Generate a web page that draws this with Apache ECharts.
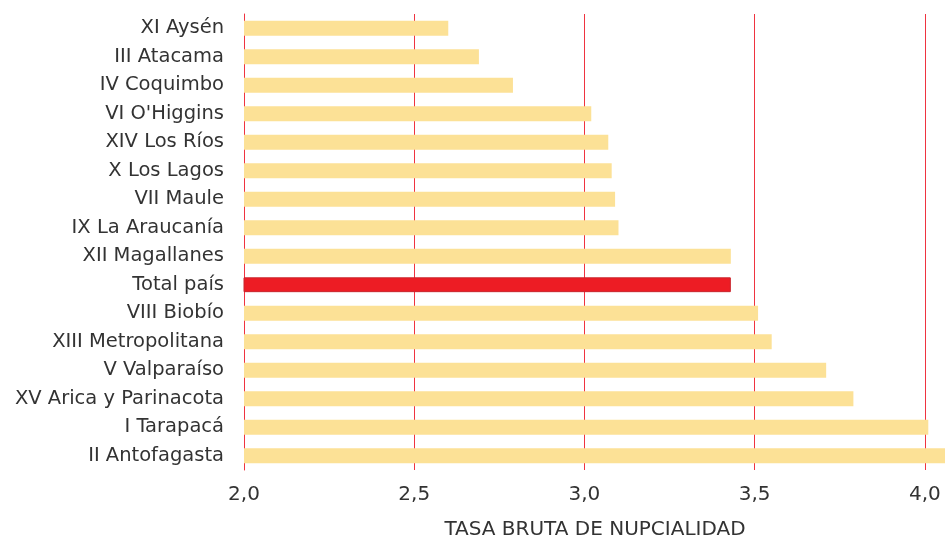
<!DOCTYPE html>
<html>
<head>
<meta charset="utf-8">
<title>Tasa bruta de nupcialidad</title>
<script src="https://cdn.jsdelivr.net/npm/echarts@6/dist/echarts.min.js"></script>
<style>
  html, body { margin: 0; padding: 0; background: #fff; }
  #container { width: 945px; height: 540px; }
</style>
</head>
<body>
<div id="container"></div>
<script>
// regiones, de arriba hacia abajo
var regiones = ['XI Aysén', 'III Atacama', 'IV Coquimbo', "VI O'Higgins", 'XIV Los Ríos',
  'X Los Lagos', 'VII Maule', 'IX La Araucanía', 'XII Magallanes', 'Total país',
  'VIII Biobío', 'XIII Metropolitana', 'V Valparaíso', 'XV Arica y Parinacota',
  'I Tarapacá', 'II Antofagasta'];
var tasas = [2.60, 2.69, 2.79, 3.02, 3.07, 3.08, 3.09, 3.10, 3.43, 3.43,
  3.51, 3.55, 3.71, 3.79, 4.01, 4.15];
var ejeMin = 2.0, ejeMax = 4.062, ejePaso = 0.5;
var nombreEje = 'TASA BRUTA DE NUPCIALIDAD';

var fuente = 'DejaVu Sans';
var myChart = echarts.init(document.getElementById('container'));

var datos = [];
for (var i = 0; i < tasas.length; i++) {
  if (regiones[i] == 'Total país') {
    datos.push({ value: tasas[i], itemStyle: { color: '#ed1c24', borderColor: '#c9252c', borderWidth: 1 } });
  } else {
    datos.push(tasas[i]);
  }
}

var option = {
  animation: false,
  grid: { left: 244, right: -1, top: 14, bottom: 70, outerBoundsMode: 'none', containLabel: false },
  xAxis: {
    type: 'value',
    min: ejeMin,
    max: ejeMax,
    interval: ejePaso,
    name: nombreEje,
    nameLocation: 'middle',
    nameGap: 50,
    nameMoveOverlap: false,
    nameTextStyle: { fontFamily: fuente, fontSize: 20, color: '#333' },
    axisLine: { show: false },
    axisTick: { show: false },
    axisLabel: {
      margin: 15, fontFamily: fuente, fontSize: 20, color: '#333',
      showMaxLabel: false,
      formatter: function (v) { return v.toFixed(1).replace('.', ','); }
    },
    splitLine: { show: true, lineStyle: { color: '#ef3340', width: 1 } }
  },
  yAxis: {
    type: 'category',
    data: regiones,
    inverse: true,
    axisLine: { show: true, lineStyle: { color: '#ef3340', width: 1 } },
    axisTick: { show: false },
    axisLabel: { margin: 20, fontFamily: fuente, fontSize: 19.5, color: '#333' }
  },
  series: [{
    type: 'bar',
    data: datos,
    barWidth: '52%',
    itemStyle: { color: '#fce196' }
  }]
};
myChart.setOption(option);
</script>
</body>
</html>
